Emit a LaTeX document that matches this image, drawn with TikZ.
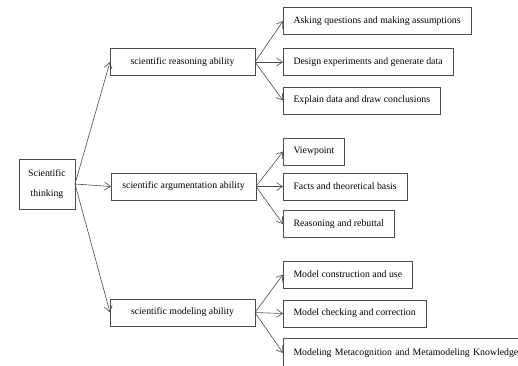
\documentclass[tikz,border=0pt]{standalone}
\usepackage{fontspec}
\setmainfont{Liberation Serif}
\usepackage{tikz}
\usetikzlibrary{arrows.meta}

\begin{document}
\begin{tikzpicture}[x=1pt, y=-1pt,
    every node/.style={draw=black!70, line width=0.6pt, font=\fontsize{9.8}{12}\selectfont, inner sep=0pt, outer sep=0pt},
    mid/.style={minimum width=145pt, minimum height=27pt},
    leaf/.style={anchor=west, minimum height=27pt, inner xsep=10.5pt},
    link/.style={draw=black!70, line width=0.6pt, -{Straight Barb[length=6pt,width=8pt]}}]
            \useasboundingbox (0,0) rectangle (518,365);
            \node[minimum width=56pt, minimum height=50pt, align=center] (sci) at (47,184) {Scientific\\[8pt]thinking};
            \node[mid] (rea) at (182.5,62) {scientific reasoning ability};
            \node[mid] (arg) at (183.5,186.5) {scientific argumentation ability};
            \node[mid] (mod) at (182.5,312.5) {scientific modeling ability};
            \node[leaf] (ask) at (283,21) {Asking questions and making assumptions};
            \node[leaf] (des) at (283,62) {Design experiments and generate data};
            \node[leaf] (exp) at (283,100.5) {Explain data and draw conclusions};
            \node[leaf] (vie) at (283,151.5) {Viewpoint};
            \node[leaf] (fac) at (283,186.5) {Facts and theoretical basis};
            \node[leaf] (reb) at (283,224) {Reasoning and rebuttal};
            \node[leaf] (con) at (283,274.5) {Model construction and use};
            \node[leaf] (che) at (283,313.5) {Model checking and correction};
            \node[leaf, minimum height=30pt, align=left, text width=228pt] (meta) at (283,353) {Modeling Metacognition and Metamodeling Knowledge};
            \draw[link] (sci.east) -- (rea.west);
            \draw[link] (sci.east) -- (arg.west);
            \draw[link] (sci.east) -- (mod.west);
            \draw[link] (rea.east) -- (ask.west);
            \draw[link] (rea.east) -- (des.west);
            \draw[link] (rea.east) -- (exp.west);
            \draw[link] (arg.east) -- (vie.west);
            \draw[link] (arg.east) -- (fac.west);
            \draw[link] (arg.east) -- (reb.west);
            \draw[link] (mod.east) -- (con.west);
            \draw[link] (mod.east) -- (che.west);
            \draw[link] (mod.east) -- (meta.west);
        \end{tikzpicture}
\end{document}
